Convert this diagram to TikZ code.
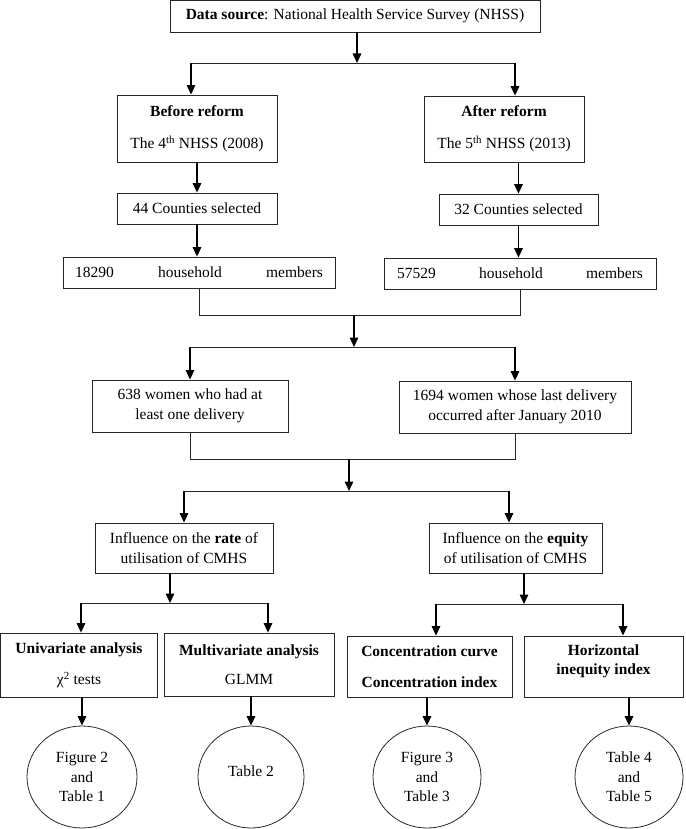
\documentclass[tikz,border=0pt]{standalone}
\usepackage{fontspec}
\setmainfont{Liberation Serif}
\usetikzlibrary{arrows.meta,shapes.geometric,calc}
\begin{document}
\begin{tikzpicture}[x=1pt,y=-1pt,
  font=\fontsize{15.5pt}{19.5pt}\selectfont,
  box/.style={draw=black!85, line width=0.8pt, rectangle, inner sep=0pt, align=center},
  oval/.style={draw=black!85, line width=0.8pt, ellipse, inner sep=0pt, align=center},
  arr/.style={line width=1.5pt, -{Triangle[length=9.5pt,width=8.5pt]}},
  ln/.style={draw=black!85, line width=0.8pt},
]
\useasboundingbox (0,0) rectangle (685,829);

% boxes
\node[box, minimum width=370pt, minimum height=31.5pt] (ds) at (355,16.25)
  {\textbf{Data source}: National Health Service Survey (NHSS)};
\node[box, minimum width=160pt, minimum height=67pt] (before) at (197,128.5)
  {\textbf{Before reform}\\[12.5pt]The 4\textsuperscript{th} NHSS (2008)};
\node[box, minimum width=160pt, minimum height=66pt] (after) at (504,129)
  {\textbf{After reform}\\[12.5pt]The 5\textsuperscript{th} NHSS (2013)};
\node[box, minimum width=160pt, minimum height=31pt] (c44) at (197,208.5) {44 Counties selected};
\node[box, minimum width=159pt, minimum height=31pt] (c32) at (518.5,209.5) {32 Counties selected};
\node[box, minimum width=272pt, minimum height=31pt] (h18) at (199,272.5)
  {\makebox[248pt]{18290\hfill household\hfill members}};
\node[box, minimum width=272pt, minimum height=31pt] (h57) at (520,273.5)
  {\makebox[246pt]{57529\hfill household\hfill members}};
\node[box, minimum width=196pt, minimum height=52pt] (w638) at (190,406)
  {638 women who had at\\least one delivery};
\node[box, minimum width=232pt, minimum height=52pt] (w1694) at (515,407)
  {1694 women whose last delivery\\occurred after January 2010};
\node[box, minimum width=178pt, minimum height=50pt] (rate) at (184,548)
  {Influence on the \textbf{rate} of\\utilisation of CMHS};
\node[box, minimum width=173pt, minimum height=50pt] (equity) at (515.5,548)
  {Influence on the \textbf{equity}\\of utilisation of CMHS};
\node[box, minimum width=157pt, minimum height=64pt] (uni) at (79,665)
  {\textbf{Univariate analysis}\\[11.5pt]χ\textsuperscript{2} tests};
\node[box, minimum width=170pt, minimum height=63pt] (multi) at (249,664.5)
  {\textbf{Multivariate analysis}\\[9.5pt]GLMM};
\node[box, minimum width=165pt, minimum height=61pt] (conc) at (429.5,666.5)
  {\textbf{Concentration curve}\\[11.5pt]\textbf{Concentration index}};
\node[box, minimum width=159pt, minimum height=61pt] (horiz) at (603.5,666.5) {};
\node[align=center, inner sep=0pt] (horizt) at ($(horiz.center)+(0,-5)$)
  {\textbf{Horizontal}\\\textbf{inequity index}};

% ovals
\node[oval, minimum width=110pt, minimum height=102pt] (o1) at (82,777) {Figure 2\\and\\Table 1};
\node[oval, minimum width=106pt, minimum height=102pt] (o2) at (251,777) {Table 2\\[-7pt]};
\node[oval, minimum width=108pt, minimum height=102pt] (o3) at (427,777) {Figure 3\\and\\Table 3};
\node[oval, minimum width=108pt, minimum height=102pt] (o4) at (629,777) {Table 4\\and\\Table 5};

% level 1
\coordinate (s1) at (357,63);
\coordinate (s1L) at (191,63);
\coordinate (s1R) at (515,63);
\draw[arr] (s1 |- ds.south) -- (s1);
\draw[ln] (s1L) -- (s1R);
\draw[arr] (s1L) -- (s1L |- before.north);
\draw[arr] (s1R) -- (s1R |- after.north);
\draw[arr] (before.south) -- (before.south |- c44.north);
\draw[arr] (after.south -| c32.north) -- (c32.north);
\draw[arr] (c44.south) -- (c44.south |- h18.north);
\draw[arr] (c32.south) -- (c32.south |- h57.north);

% merge 1
\coordinate (m1) at (354,315);
\coordinate (s2) at (354,347);
\draw[ln] (h18.south) -- (h18.south |- m1) -- (h57.south |- m1) -- (h57.south);
\draw[arr] (m1) -- (s2);
\draw[ln] (w638.north |- s2) -- (w1694.north |- s2);
\draw[arr] (w638.north |- s2) -- (w638.north);
\draw[arr] (w1694.north |- s2) -- (w1694.north);

% merge 2
\coordinate (m2) at (349,459);
\coordinate (s3) at (349,491);
\coordinate (s3L) at (184,491);
\coordinate (s3R) at (509,491);
\draw[ln] (w638.south) -- (w638.south |- m2) -- (w1694.south |- m2) -- (w1694.south);
\draw[arr] (m2) -- (s3);
\draw[ln] (s3L) -- (s3R);
\draw[arr] (s3L) -- (s3L |- rate.north);
\draw[arr] (s3R) -- (s3R |- equity.north);

% rate split
\coordinate (s4) at (170,603);
\coordinate (s4L) at (81,603);
\coordinate (s4R) at (268,603);
\draw[arr] (s4 |- rate.south) -- (s4);
\draw[ln] (s4L) -- (s4R);
\draw[arr] (s4L) -- (s4L |- uni.north);
\draw[arr] (s4R) -- (s4R |- multi.north);

% equity split
\coordinate (s5) at (524,604);
\coordinate (s5L) at (436,604);
\coordinate (s5R) at (623,604);
\draw[arr] (s5 |- equity.south) -- (s5);
\draw[ln] (s5L) -- (s5R);
\draw[arr] (s5L) -- (s5L |- conc.north);
\draw[arr] (s5R) -- (s5R |- horiz.north);

% to ovals
\draw[arr] (uni.south -| o1.north) -- (o1.north);
\draw[arr] (multi.south -| o2.north) -- (o2.north);
\draw[arr] (conc.south -| o3.north) -- (o3.north);
\draw[arr] (horiz.south -| o4.north) -- (o4.north);
\end{tikzpicture}
\end{document}
